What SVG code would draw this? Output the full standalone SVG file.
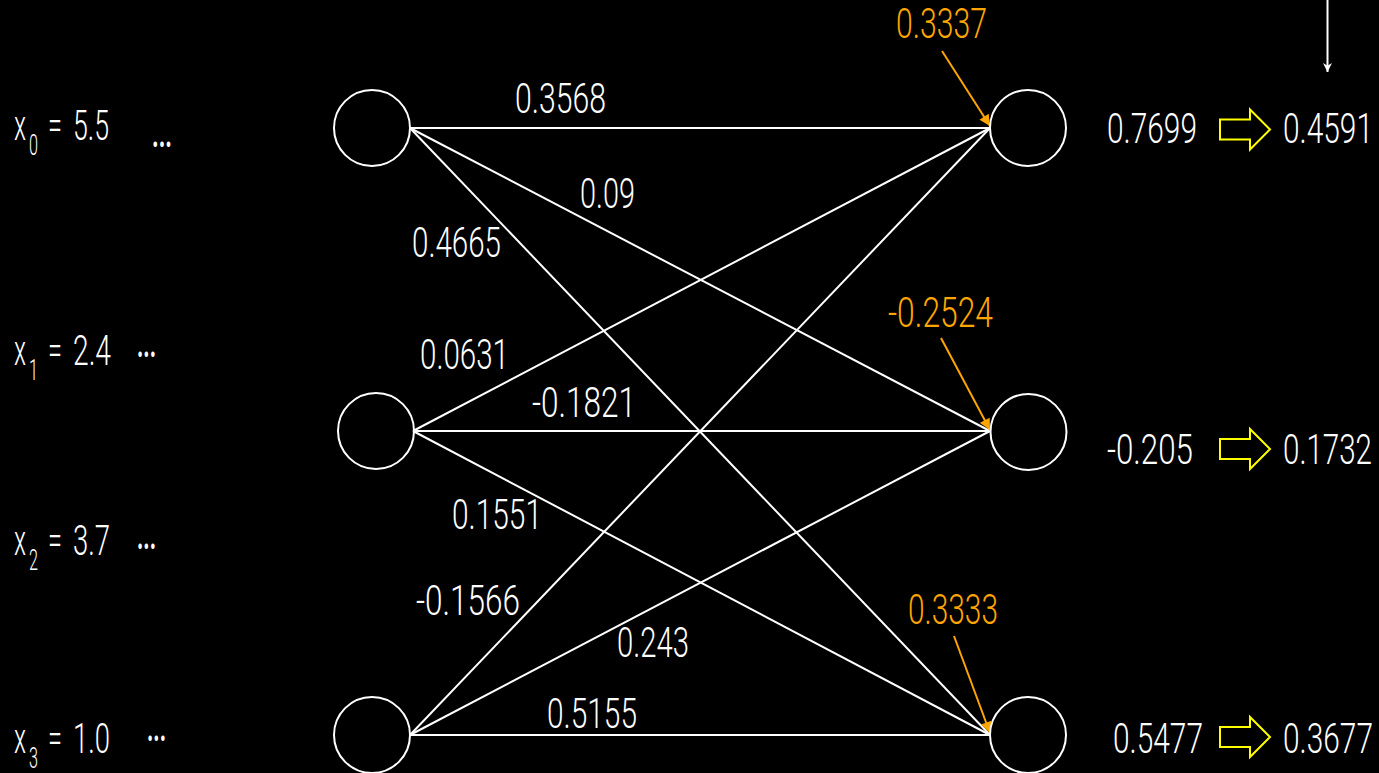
<svg xmlns="http://www.w3.org/2000/svg" width="1379" height="773" viewBox="0 0 1379 773">
<defs>
<style>
.t{font-family:Roboto,"Liberation Sans",sans-serif;font-weight:300;font-size:42px;fill:#fff}
.o{fill:#ffa500}
.s{font-size:30px}
.d{font-weight:700;font-size:36px}
.node{fill:none;stroke:#fff;stroke-width:2}
.edge{stroke:#fff;stroke-width:2;fill:none}
.pt{stroke:#ffa500;stroke-width:2;fill:none}
.ya{fill:none;stroke:#ffff00;stroke-width:2;stroke-linejoin:miter}
</style>
<marker id="ao" viewBox="0 0 10 10" refX="10" refY="5" markerWidth="13" markerHeight="11" orient="auto" markerUnits="userSpaceOnUse">
<path d="M0,0 L10,5 L0,10 z" fill="#ffa500"/>
</marker>
<marker id="aw" viewBox="0 0 10 10" refX="10" refY="5" markerWidth="11" markerHeight="9" orient="auto" markerUnits="userSpaceOnUse">
<path d="M0,0 L10,5 L0,10 L3,5 z" fill="#fff"/>
</marker>
</defs>
<rect width="1379" height="773" fill="#000"/>

<g id="connectors">
<line class="edge" x1="410" y1="128" x2="990" y2="128"/>
<line class="edge" x1="410" y1="128" x2="990" y2="431"/>
<line class="edge" x1="410" y1="128" x2="990" y2="735"/>
<line class="edge" x1="413" y1="431" x2="990" y2="128"/>
<line class="edge" x1="413" y1="431" x2="990" y2="431"/>
<line class="edge" x1="413" y1="431" x2="990" y2="735"/>
<line class="edge" x1="410" y1="735" x2="990" y2="128"/>
<line class="edge" x1="410" y1="735" x2="990" y2="431"/>
<line class="edge" x1="410" y1="735" x2="990" y2="735"/>
<line class="pt" x1="942" y1="51" x2="990" y2="126" marker-end="url(#ao)"/>
<line class="pt" x1="941" y1="338" x2="990" y2="430" marker-end="url(#ao)"/>
<line class="pt" x1="954" y1="636" x2="990" y2="733" marker-end="url(#ao)"/>
<line x1="1327.5" y1="0" x2="1327.5" y2="72" stroke="#fff" stroke-width="2" marker-end="url(#aw)"/>
</g>

<g id="in0"><circle class="node" cx="372" cy="128" r="38"/></g>
<g id="in1"><circle class="node" cx="376" cy="431" r="38"/></g>
<g id="in2"><circle class="node" cx="372" cy="735" r="38"/></g>
<g id="out0"><circle class="node" cx="1028" cy="128" r="38"/></g>
<g id="out1"><circle class="node" cx="1028.5" cy="432" r="38"/></g>
<g id="out2"><circle class="node" cx="1028" cy="735" r="38"/></g>

<g id="weights">
<text class="t" x="515" y="113" textLength="91" lengthAdjust="spacingAndGlyphs">0.3568</text>
<text class="t" x="580" y="208" textLength="55" lengthAdjust="spacingAndGlyphs">0.09</text>
<text class="t" x="412" y="257" textLength="89" lengthAdjust="spacingAndGlyphs">0.4665</text>
<text class="t" x="420" y="369" textLength="89" lengthAdjust="spacingAndGlyphs">0.0631</text>
<text class="t" x="532" y="417" textLength="104" lengthAdjust="spacingAndGlyphs">-0.1821</text>
<text class="t" x="452" y="529" textLength="90" lengthAdjust="spacingAndGlyphs">0.1551</text>
<text class="t" x="416" y="615" textLength="104" lengthAdjust="spacingAndGlyphs">-0.1566</text>
<text class="t" x="617" y="657" textLength="72" lengthAdjust="spacingAndGlyphs">0.243</text>
<text class="t" x="547" y="728" textLength="90" lengthAdjust="spacingAndGlyphs">0.5155</text>
</g>

<g id="biases">
<text class="t o" x="896" y="38" textLength="91" lengthAdjust="spacingAndGlyphs">0.3337</text>
<text class="t o" x="888" y="327" textLength="105" lengthAdjust="spacingAndGlyphs">-0.2524</text>
<text class="t o" x="908" y="624" textLength="90" lengthAdjust="spacingAndGlyphs">0.3333</text>
</g>

<g id="outputs">
<text class="t" x="1107" y="143" textLength="90" lengthAdjust="spacingAndGlyphs">0.7699</text>
<path class="ya" d="M1220,119.5 H1250 V109.5 L1270,129.5 L1250,149.5 V139.5 H1220 Z"/>
<text class="t" x="1283" y="143" textLength="90" lengthAdjust="spacingAndGlyphs">0.4591</text>
<text class="t" x="1107" y="464" textLength="86" lengthAdjust="spacingAndGlyphs">-0.205</text>
<path class="ya" d="M1220,439 H1250 V429 L1270,449 L1250,469 V459 H1220 Z"/>
<text class="t" x="1283" y="464" textLength="89" lengthAdjust="spacingAndGlyphs">0.1732</text>
<text class="t" x="1113" y="753" textLength="90" lengthAdjust="spacingAndGlyphs">0.5477</text>
<path class="ya" d="M1220,727 H1250 V717 L1270,737 L1250,757 V747 H1220 Z"/>
<text class="t" x="1283" y="753" textLength="90" lengthAdjust="spacingAndGlyphs">0.3677</text>
</g>

<g id="inputs">
<text class="t" x="14" y="140" textLength="12" lengthAdjust="spacingAndGlyphs">x</text>
<text class="t s" x="29" y="155" textLength="9" lengthAdjust="spacingAndGlyphs">0</text>
<text class="t" x="48" y="140" textLength="14" lengthAdjust="spacingAndGlyphs">=</text>
<text class="t" x="73" y="140" textLength="36" lengthAdjust="spacingAndGlyphs">5.5</text>
<text class="t d" x="152" y="147" textLength="20" lengthAdjust="spacingAndGlyphs">...</text>

<text class="t" x="14" y="365" textLength="12" lengthAdjust="spacingAndGlyphs">x</text>
<text class="t s" x="29" y="380" textLength="9" lengthAdjust="spacingAndGlyphs">1</text>
<text class="t" x="48" y="365" textLength="14" lengthAdjust="spacingAndGlyphs">=</text>
<text class="t" x="73" y="365" textLength="38" lengthAdjust="spacingAndGlyphs">2.4</text>
<text class="t d" x="137" y="357" textLength="19" lengthAdjust="spacingAndGlyphs">...</text>

<text class="t" x="14" y="555" textLength="12" lengthAdjust="spacingAndGlyphs">x</text>
<text class="t s" x="29" y="570" textLength="9" lengthAdjust="spacingAndGlyphs">2</text>
<text class="t" x="48" y="555" textLength="14" lengthAdjust="spacingAndGlyphs">=</text>
<text class="t" x="73" y="555" textLength="37" lengthAdjust="spacingAndGlyphs">3.7</text>
<text class="t d" x="137" y="549" textLength="19" lengthAdjust="spacingAndGlyphs">...</text>

<text class="t" x="14" y="753" textLength="12" lengthAdjust="spacingAndGlyphs">x</text>
<text class="t s" x="29" y="768" textLength="9" lengthAdjust="spacingAndGlyphs">3</text>
<text class="t" x="48" y="753" textLength="14" lengthAdjust="spacingAndGlyphs">=</text>
<text class="t" x="73" y="753" textLength="37" lengthAdjust="spacingAndGlyphs">1.0</text>
<text class="t d" x="147" y="741" textLength="19" lengthAdjust="spacingAndGlyphs">...</text>
</g>
</svg>
